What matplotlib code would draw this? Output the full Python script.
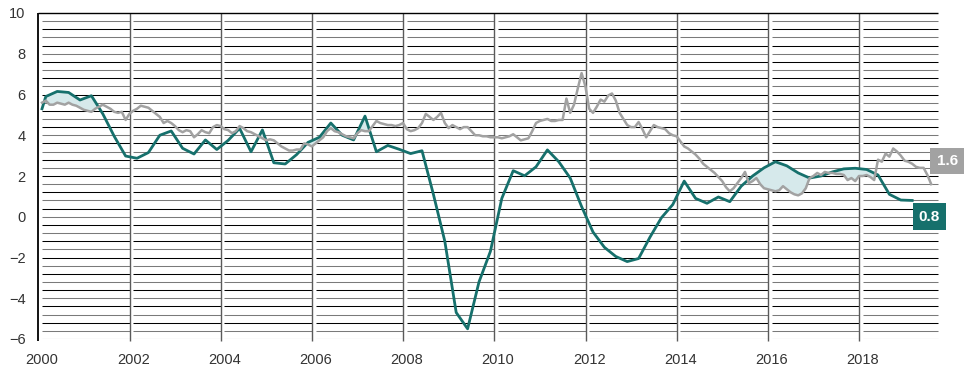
import numpy as np
import matplotlib
matplotlib.use("Agg")
from matplotlib import pyplot as plt

# grey series, monthly from Jan 2000
gray_vals = [
	5.6, 5.7, 5.5, 5.5, 5.6, 5.55, 5.5, 5.6, 5.5, 5.45, 5.35, 5.25,
	5.2, 5.15, 5.3, 5.4, 5.5, 5.4, 5.3, 5.15, 5.1, 5.15, 4.75, 5.05,
	5.2, 5.3, 5.45, 5.4, 5.35, 5.2, 5.05, 4.9, 4.6, 4.7, 4.6, 4.45,
	4.25, 4.15, 4.25, 4.2, 3.9, 4.05, 4.25, 4.15, 4.1, 4.4, 4.5, 4.45,
	4.3, 4.25, 4.1, 4.2, 4.45, 4.35, 4.2, 4.15, 4.05, 3.95, 3.85, 3.75,
	3.8, 3.75, 3.6, 3.45, 3.35, 3.25, 3.25, 3.3, 3.3, 3.6, 3.55, 3.45,
	3.6, 3.75, 3.9, 4.2, 4.35, 4.2, 4.15, 4.05, 3.95, 3.9, 3.85, 4.1,
	4.25, 4.2, 4.2, 4.45, 4.7, 4.6, 4.55, 4.5, 4.5, 4.45, 4.5, 4.6,
	4.3, 4.2, 4.25, 4.35, 4.6, 5.05, 4.9, 4.75, 4.9, 5.1, 4.6, 4.35,
	4.5, 4.4, 4.3, 4.4, 4.4, 4.2, 4.0, 4.0, 3.95, 3.95, 3.9, 3.9,
	3.9, 3.85, 3.9, 3.95, 4.05, 3.9, 3.75, 3.8, 3.85, 4.2, 4.6, 4.7,
	4.75, 4.8, 4.7, 4.7, 4.75, 4.75, 5.8, 5.1, 5.5, 6.3, 7.05, 6.4,
	5.3, 5.1, 5.4, 5.75, 5.65, 5.95, 6.05, 5.7, 5.1, 4.8, 4.5, 4.4,
	4.4, 4.65, 4.3, 3.9, 4.2, 4.5, 4.4, 4.35, 4.3, 4.1, 4.0, 3.95,
	3.7, 3.45, 3.35, 3.2, 3.05, 2.85, 2.6, 2.45, 2.3, 2.15, 1.95, 1.75,
	1.45, 1.25, 1.4, 1.65, 1.9, 2.2, 1.65, 1.75, 1.9, 1.6, 1.4, 1.35,
	1.3, 1.25, 1.3, 1.5, 1.35, 1.2, 1.1, 1.05, 1.15, 1.4, 1.9, 2.0,
	2.15, 2.05, 2.2, 2.15, 2.15, 2.1, 2.1, 2.05, 1.8, 1.9, 1.75, 2.0,
	2.0, 2.05, 1.95, 1.8, 2.8, 2.7, 3.1, 2.95, 3.35, 3.2, 3.0, 2.75,
	2.7, 2.6, 2.45, 2.4, 2.4, 2.05, 1.6,
]

# teal series, first value Jan 2000 then quarterly (Feb, May, Aug, Nov)
teal_vals = [
	5.3,
	5.9, 6.15, 6.1, 5.73,
	5.94, 5.05, 3.95, 2.98,
	2.87, 3.15, 4.0, 4.21,
	3.36, 3.08, 3.77, 3.3,
	3.75, 4.34, 3.19, 4.26,
	2.65, 2.59, 3.05, 3.65,
	3.9, 4.6, 4.0, 3.77,
	4.94, 3.19, 3.5, 3.31,
	3.1, 3.24, 1.1, -1.2,
	-4.7, -5.5, -3.2, -1.7,
	0.9, 2.26, 2.01, 2.45,
	3.28, 2.7, 1.9, 0.5,
	-0.75, -1.5, -1.95, -2.2,
	-2.05, -1.0, -0.05, 0.6,
	1.75, 0.9, 0.66, 0.97,
	0.74, 1.5, 2.0, 2.4,
	2.7, 2.5, 2.15, 1.9,
	2.0, 2.2, 2.35, 2.38,
	2.32, 2.05, 1.1, 0.82,
	0.8,
]
teal_months = [0] + [1 + 3 * k for k in range(len(teal_vals) - 1)]

year_ticks = list(range(2000, 2019, 2))
y_ticks = list(range(-6, 11, 2))

teal_color = "#16706c"
gray_color = "#a2a2a2"

plt.rcParams["font.family"] = ["Liberation Sans", "DejaVu Sans"]

gray_x = 2000 + np.arange(len(gray_vals)) / 12
teal_x = 2000 + np.array(teal_months) / 12
gray_y = np.array(gray_vals)
teal_y = np.array(teal_vals)

fig = plt.figure(figsize=(9.71, 3.75), dpi=100)
ax = fig.add_axes([38 / 971, 36 / 375, 933 / 971, 326 / 375])
x0, x1 = 1999.912, 2020.373
ax.set_xlim(x0, x1)
ax.set_ylim(-6, 10)

# striped background: short horizontal lines per two-year block
levels = [-6 + 0.4 * i for i in range(40)]
cols = ["black" if i % 2 == 0 else "#7a7a7a" for i in range(40)]
line_end = 2019.65
for yr in year_ticks:
	end = yr + 1.92 if yr < 2018 else line_end
	ax.hlines(levels, yr, end, colors=cols, lw=0.75, zorder=1)
	if yr < 2018:
		ax.vlines(yr + 1.92, -6.1, 10, colors="#5a5a5a", lw=1.0, zorder=1, clip_on=False)
ax.hlines(10, x0, line_end, colors="black", lw=1.0, zorder=1, clip_on=False)
ax.vlines(x0, -6.1, 10, colors="black", lw=1.3, zorder=1, clip_on=False)

# shade where teal runs above grey
m = gray_x <= teal_x[-1]
fx = gray_x[m]
fg = gray_y[m]
ft = np.interp(fx, teal_x, teal_y)
ax.fill_between(fx, fg, ft, where=ft > fg, interpolate=True, color="#d6e9eb", lw=0, zorder=2)

ax.plot(teal_x, teal_y, color=teal_color, lw=2.0, zorder=3, solid_joinstyle="round")
ax.plot(gray_x, gray_y, color=gray_color, lw=1.8, zorder=4, solid_joinstyle="round")

ax.text(2019.85, 2.74, "1.6", color="white", fontsize=11, fontweight="bold",
	ha="center", va="center", zorder=5,
	bbox=dict(boxstyle="square,pad=0.4", fc=gray_color, ec="none"))
ax.text(2019.46, 0.01, "0.8", color="white", fontsize=11, fontweight="bold",
	ha="center", va="center", zorder=5,
	bbox=dict(boxstyle="square,pad=0.4", fc=teal_color, ec="none"))

ax.set_xticks(year_ticks)
ax.set_yticks(y_ticks)
ax.tick_params(length=0, labelsize=10.5, colors="#333333")
ax.tick_params(axis="x", pad=10)
ax.tick_params(axis="y", pad=9)
for s in ax.spines.values():
	s.set_visible(False)

fig.savefig("out.png", dpi=100)
